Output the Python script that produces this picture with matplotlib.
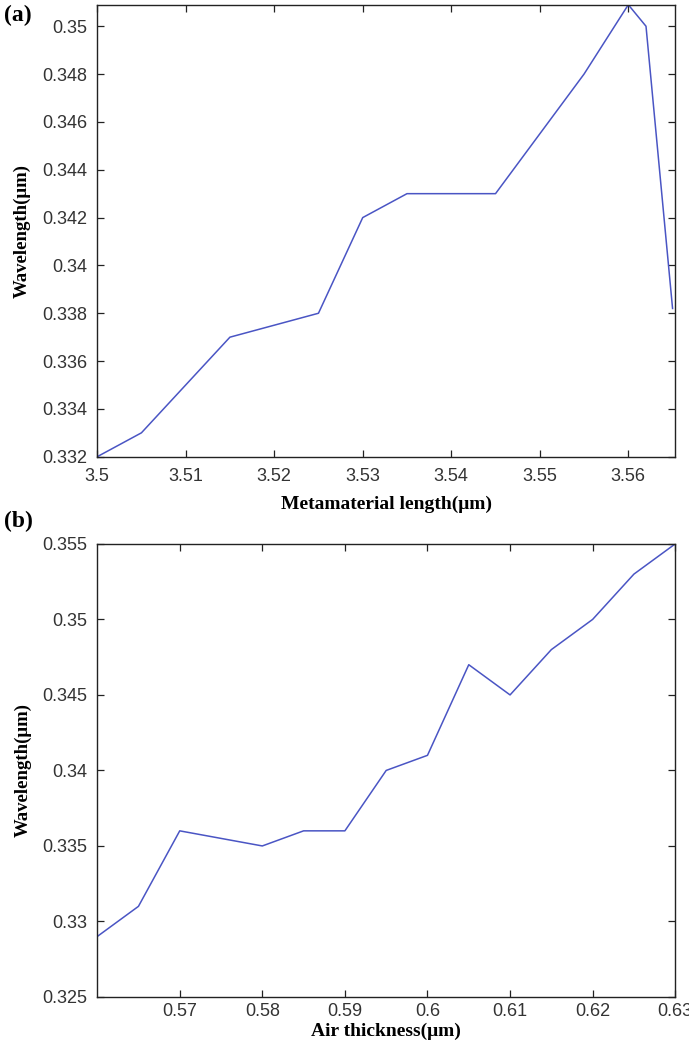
import numpy as np
import matplotlib
matplotlib.use("Agg")
import matplotlib.pyplot as plt
from matplotlib.ticker import FuncFormatter

# panel (a): wavelength vs metamaterial length
len_a = [3.500, 3.505, 3.515, 3.525, 3.530, 3.535, 3.545, 3.555, 3.560, 3.562, 3.565]
wl_a = [0.332, 0.333, 0.337, 0.338, 0.342, 0.343, 0.343, 0.348, 0.3509, 0.350, 0.3382]

# panel (b): wavelength vs air thickness
air_b = [0.560, 0.565, 0.570, 0.580, 0.585, 0.590, 0.595, 0.600, 0.605, 0.610,
         0.615, 0.620, 0.625, 0.630]
wl_b = [0.329, 0.331, 0.336, 0.335, 0.336, 0.336, 0.340, 0.341, 0.347, 0.345,
        0.348, 0.350, 0.353, 0.355]

LINE = "#4a55c4"
TICKFONT = ["Liberation Sans Narrow", "Liberation Sans", "DejaVu Sans"]
LABFONT = ["Liberation Serif", "DejaVu Serif"]

fmt = FuncFormatter(lambda v, p: f"{v:g}")

fig = plt.figure(figsize=(6.89, 10.5), dpi=100)
ax_a = fig.add_axes([0.141, 0.565, 0.839, 0.4305])
ax_b = fig.add_axes([0.141, 0.0505, 0.839, 0.4315])


def style(ax, xpad):
    ax.tick_params(direction="in", top=True, right=True, length=5, width=0.9,
                   labelsize=13, colors="#222222", labelcolor="#333333")
    ax.tick_params(axis="y", pad=7)
    ax.tick_params(axis="x", pad=xpad)
    for lab in ax.get_xticklabels() + ax.get_yticklabels():
        lab.set_fontfamily(TICKFONT)
        lab.set_fontstretch("condensed")
    for s in ax.spines.values():
        s.set_linewidth(1.0)
        s.set_color("#222222")
    ax.xaxis.set_major_formatter(fmt)
    ax.yaxis.set_major_formatter(fmt)


ax_a.plot(len_a, wl_a, color=LINE, lw=1.1)
ax_a.set_xlim(3.5, 3.5653)
ax_a.set_ylim(0.332, 0.3509)
ax_a.set_xticks(np.arange(3.5, 3.5601, 0.01))
ax_a.set_yticks(np.arange(0.332, 0.3501, 0.002))
style(ax_a, 8)
ax_a.set_xlabel("Metamaterial length(μm)", fontfamily=LABFONT, fontweight="bold",
                fontsize=14, labelpad=8)
ax_a.set_ylabel("Wavelength(μm)", fontfamily=LABFONT, fontweight="bold",
                fontsize=13.5, labelpad=8)
fig.text(0.006, 0.985, "(a)", fontfamily=LABFONT, fontweight="bold", fontsize=17,
         va="center", ha="left")

ax_b.plot(air_b, wl_b, color=LINE, lw=1.1)
ax_b.set_xlim(0.56, 0.63)
ax_b.set_ylim(0.325, 0.355)
ax_b.set_xticks(np.arange(0.57, 0.6301, 0.01))
ax_b.set_yticks(np.arange(0.325, 0.3551, 0.005))
style(ax_b, 4)
ax_b.set_xlabel("Air thickness(μm)", fontfamily=LABFONT, fontweight="bold",
                fontsize=14, labelpad=2)
ax_b.set_ylabel("Wavelength(μm)", fontfamily=LABFONT, fontweight="bold",
                fontsize=13.5, labelpad=8)
fig.text(0.006, 0.503, "(b)", fontfamily=LABFONT, fontweight="bold", fontsize=17,
         va="center", ha="left")

fig.savefig("out.png", dpi=100)
